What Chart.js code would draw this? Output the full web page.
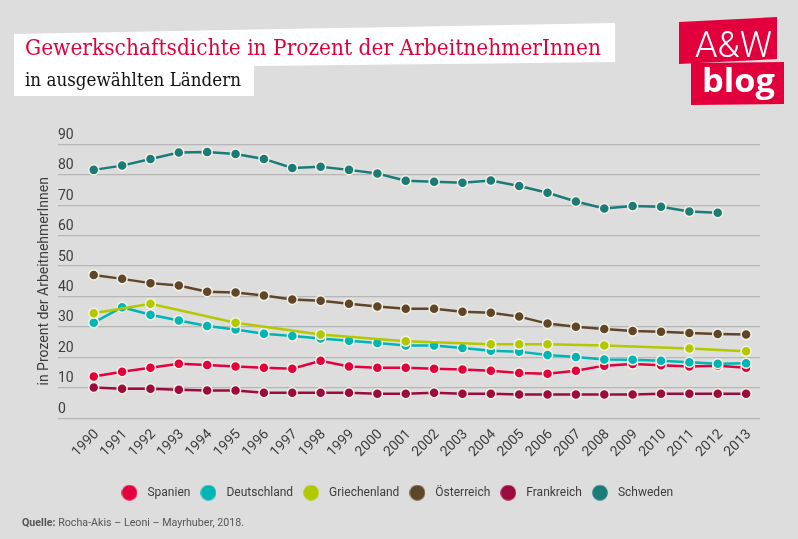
<!DOCTYPE html>
<html>
<head>
<meta charset="utf-8">
<script src="https://cdn.jsdelivr.net/npm/chart.js@4.4.1/dist/chart.umd.min.js"></script>
<style>
html,body{margin:0;padding:0;background:#dddddd;}
#wrap{position:relative;width:798px;height:539px;overflow:hidden;background:#dddddd;}
#c{position:absolute;left:0;top:0;}
#ov{position:absolute;left:0;top:0;pointer-events:none;}
</style>
</head>
<body>
<div id="wrap">
<canvas id="c" width="798" height="539"></canvas>
<svg id="ov" width="798" height="539" xmlns="http://www.w3.org/2000/svg">
  <polygon points="14,34 615,23 615,62 254,66 254,96 14,96" fill="#ffffff"/>
  <text x="25" y="55" font-family="DejaVu Serif, serif" font-size="22.5" fill="#e2003c" textLength="576" lengthAdjust="spacingAndGlyphs">Gewerkschaftsdichte in Prozent der ArbeitnehmerInnen</text>
  <text x="25" y="86" font-family="DejaVu Serif, serif" font-size="19" fill="#111111" textLength="216" lengthAdjust="spacingAndGlyphs">in ausgewählten Ländern</text>
  <polygon points="679,22 777,17 777,59 679,64" fill="#e2003c"/>
  <polygon points="691,63 784,62 784,104 691,105" fill="#e2003c"/>
  <text x="695" y="57" font-family="Roboto, sans-serif" font-weight="300" font-size="37" fill="#ffffff" textLength="77" lengthAdjust="spacingAndGlyphs">A&amp;W</text>
  <text x="702" y="92" font-family="Open Sans, sans-serif" font-weight="700" font-size="33" fill="#ffffff" textLength="73" lengthAdjust="spacingAndGlyphs">blog</text>
  <text x="22" y="526" font-family="Roboto, sans-serif" font-size="11" fill="#555555" textLength="222" lengthAdjust="spacingAndGlyphs"><tspan font-weight="700">Quelle:</tspan> Rocha-Akis – Leoni – Mayrhuber, 2018.</text>
</svg>
</div>
<script>
const years = [1990,1991,1992,1993,1994,1995,1996,1997,1998,1999,2000,2001,2002,2003,2004,2005,2006,2007,2008,2009,2010,2011,2012,2013];
const yTicks = [0,10,20,30,40,50,60,70,80,90];
const seriesNames = ['Spanien','Deutschland','Griechenland','Österreich','Frankreich','Schweden'];
const seriesColors = ['#e3003d','#00b5b5','#b2c800','#5f4628','#9c0b40','#1a7b78'];
const spanien      = [13.7,15.3,16.6,17.9,17.5,17.0,16.6,16.3,18.9,17.0,16.6,16.6,16.3,16.0,15.6,14.9,14.6,15.6,17.3,17.8,17.4,17.0,17.3,16.6];
const deutschland  = [31.4,36.5,34.0,32.1,30.3,29.2,27.8,27.0,26.2,25.5,24.7,23.9,23.9,23.1,22.2,21.9,20.8,20.1,19.3,19.2,18.9,18.4,17.9,18.1];
const griechenland = [34.5,null,37.6,null,null,31.4,null,null,27.5,null,null,25.3,null,null,24.3,24.3,24.3,null,23.9,null,null,22.9,null,22.0];
const oesterreich  = [47.1,45.8,44.4,43.6,41.6,41.3,40.3,39.0,38.6,37.6,36.7,36.0,36.0,35.0,34.7,33.4,31.1,30.1,29.3,28.7,28.4,28.0,27.7,27.5];
const frankreich   = [10.1,9.7,9.7,9.4,9.1,9.1,8.4,8.4,8.4,8.4,8.1,8.1,8.4,8.1,8.1,7.8,7.8,7.8,7.8,7.8,8.1,8.1,8.1,8.1];
const schweden     = [81.6,83.0,85.2,87.3,87.5,86.8,85.2,82.2,82.6,81.6,80.4,78.0,77.7,77.4,78.1,76.3,74.1,71.2,68.9,69.7,69.5,67.9,67.5,null];
const seriesValues = [spanien,deutschland,griechenland,oesterreich,frankreich,schweden];

const TXT = '#3d3d3d';
const N = seriesNames.length;

function legendDot(color){
  const cv = document.createElement('canvas');
  cv.width = 16; cv.height = 16;
  const g = cv.getContext('2d');
  g.fillStyle = color;
  g.beginPath(); g.arc(8,8,7.8,0,Math.PI*2); g.fill();
  return cv;
}

const datasets = seriesNames.map((name,i)=>({
  label: name,
  data: years.map((yr,j)=>({x:yr, y:seriesValues[i][j]})),
  borderColor: seriesColors[i],
  backgroundColor: seriesColors[i],
  pointBackgroundColor: seriesColors[i],
  pointBorderColor: '#f5f2e4',
  pointBorderWidth: 1.5,
  pointRadius: 5,
  pointHoverRadius: 5,
  borderWidth: 2.5,
  tension: 0,
  spanGaps: true,
  order: N - i
}));

new Chart(document.getElementById('c'), {
  type: 'line',
  data: { datasets },
  options: {
    responsive: false,
    animation: false,
    devicePixelRatio: 1,
    layout: { padding: { left: 30.6, right: 38, top: 144.3, bottom: 30.3 } },
    plugins: {
      tooltip: { enabled: false },
      legend: {
        position: 'bottom',
        labels: {
          usePointStyle: true,
          pointStyleWidth: 24,
          padding: 6,
          color: TXT,
          font: { family: 'Roboto', size: 12 },
          generateLabels: (chart) => chart.data.datasets.map((ds,i)=>({
            text: ds.label,
            fillStyle: ds.borderColor,
            strokeStyle: ds.borderColor,
            lineWidth: 0,
            pointStyle: legendDot(ds.borderColor),
            fontColor: TXT,
            hidden: false,
            datasetIndex: i
          }))
        }
      }
    },
    scales: {
      x: {
        type: 'linear',
        min: 1988.74,
        max: 2013.49,
        afterBuildTicks: s => { s.ticks = years.map(v=>({value:v})); },
        afterFit: s => { s.height = 62.4; },
        grid: { display: false },
        border: { display: false },
        ticks: {
          autoSkip: false, minRotation: 45, maxRotation: 45, padding: 0, labelOffset: 3,
          color: TXT, font: { family: 'Roboto', size: 14 },
          callback: v => String(v)
        }
      },
      y: {
        min: 0, max: 90,
        afterBuildTicks: s => { s.ticks = yTicks.map(v=>({value:v})); },
        grid: { color: '#b6b6b6', lineWidth: 1.2, drawTicks: false },
        border: { display: false },
        ticks: { mirror: true, padding: 0, labelOffset: -9, color: TXT, font: { family: 'Roboto', size: 14 }, callback: v => String(v) },
        title: { display: true, text: 'in Prozent der ArbeitnehmerInnen', color: TXT, font: { family: 'Roboto', size: 14 }, padding: { top: 5, bottom: 5.6 } }
      }
    }
  }
});
</script>
</body>
</html>
